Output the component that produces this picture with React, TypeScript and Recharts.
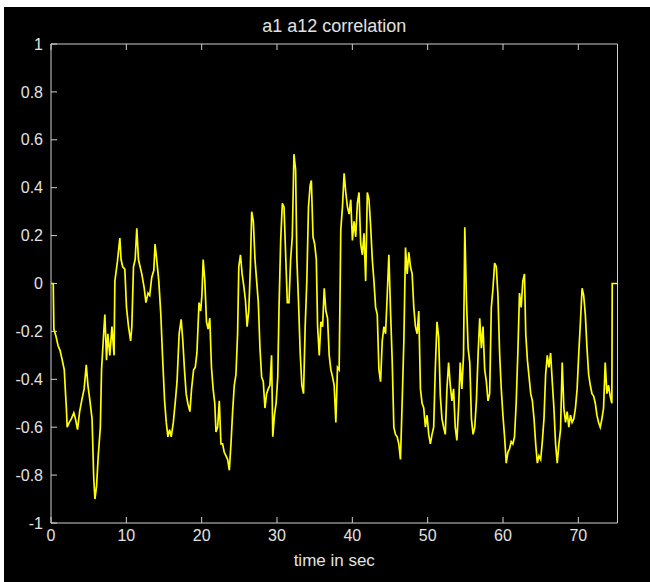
import React from 'react';
import { LineChart, Line, XAxis, YAxis } from 'recharts';

// ---- data (time in seconds, correlation value) ----
const tA = [0, 0.3, 0.38, 0.66, 0.94, 1.21, 1.49, 1.76, 1.93, 2.04, 2.15, 2.42, 2.70, 3.03, 3.25, 3.52, 3.80, 4.07, 4.40, 4.68, 4.90, 5.17, 5.45, 5.67, 5.83, 6.05, 6.27, 6.55, 6.71, 6.99, 7.15, 7.37, 7.54, 7.81, 8.09, 8.37, 8.48, 8.81, 9.14, 9.30, 9.52, 9.80];
const vA = [0, 0, -0.19, -0.22, -0.26, -0.28, -0.32, -0.36, -0.46, -0.52, -0.60, -0.58, -0.565, -0.54, -0.565, -0.61, -0.535, -0.49, -0.44, -0.34, -0.425, -0.49, -0.565, -0.81, -0.90, -0.845, -0.72, -0.60, -0.36, -0.21, -0.13, -0.32, -0.21, -0.30, -0.18, -0.30, 0.01, 0.09, 0.19, 0.10, 0.07, 0.06];

const tB = [10.02, 10.29, 10.57, 10.73, 10.95, 11.17, 11.39, 11.61, 11.83, 12.05, 12.38, 12.60, 12.88, 13.10, 13.37, 13.65, 13.81, 14.03, 14.31, 14.58, 14.80, 15.08, 15.30, 15.52, 15.74, 15.96, 16.24, 16.51, 16.73, 17.01, 17.28, 17.50, 17.72, 17.94, 18.16, 18.44, 18.66, 18.93, 19.15, 19.37, 19.65, 19.87];
const vB = [-0.10, -0.18, -0.24, -0.18, 0.07, 0.10, 0.23, 0.10, 0.07, 0.04, -0.02, -0.08, -0.04, -0.05, 0.025, 0.055, 0.165, 0.10, 0.01, -0.13, -0.30, -0.49, -0.58, -0.64, -0.61, -0.64, -0.58, -0.49, -0.41, -0.21, -0.15, -0.24, -0.36, -0.46, -0.50, -0.535, -0.44, -0.36, -0.35, -0.29, -0.08, -0.115];

const tC = [20.03, 20.20, 20.42, 20.64, 20.86, 21.08, 21.30, 21.52, 21.74, 21.90, 22.12, 22.34, 22.56, 22.78, 23.00, 23.23, 23.45, 23.67, 23.89, 24.11, 24.33, 24.55, 24.77, 24.93, 25.15, 25.37, 25.59, 25.81, 26.03, 26.25, 26.47, 26.64, 26.86, 27.08, 27.30, 27.52, 27.74, 27.96, 28.18, 28.40, 28.62, 28.84, 29.06, 29.28, 29.44, 29.66, 29.88];
const vC = [-0.05, 0.10, 0.01, -0.16, -0.19, -0.145, -0.35, -0.44, -0.50, -0.62, -0.60, -0.49, -0.67, -0.67, -0.705, -0.72, -0.735, -0.78, -0.67, -0.535, -0.425, -0.38, -0.21, 0.07, 0.12, 0.04, -0.01, -0.07, -0.18, -0.115, 0.07, 0.30, 0.26, 0.10, 0.01, -0.08, -0.27, -0.39, -0.41, -0.52, -0.46, -0.44, -0.425, -0.30, -0.64, -0.55, -0.50];

const tD = [30.10, 30.27, 30.49, 30.71, 30.93, 31.15, 31.37, 31.59, 31.81, 32.03, 32.25, 32.47, 32.64, 32.86, 33.08, 33.30, 33.52, 33.74, 33.96, 34.18, 34.40, 34.56, 34.78, 35.00, 35.22, 35.39, 35.61, 35.83, 36.05, 36.27, 36.49, 36.71, 36.93, 37.15, 37.37, 37.59, 37.81, 38.03, 38.25, 38.47, 38.69, 38.91, 39.13, 39.35, 39.57, 39.79];
const vD = [-0.39, -0.10, 0.18, 0.335, 0.32, 0.12, -0.08, -0.08, 0.10, 0.195, 0.54, 0.475, 0.10, -0.08, -0.29, -0.425, -0.46, -0.18, 0.01, 0.32, 0.41, 0.43, 0.195, 0.165, 0.10, -0.18, -0.30, -0.16, -0.18, -0.02, -0.115, -0.145, -0.30, -0.36, -0.39, -0.425, -0.58, -0.35, -0.36, 0.225, 0.32, 0.46, 0.38, 0.32, 0.29, 0.35];

const tE = [40.01, 40.23, 40.45, 40.67, 40.89, 41.11, 41.33, 41.55, 41.77, 41.99, 42.21, 42.43, 42.65, 42.87, 43.09, 43.31, 43.53, 43.75, 43.97, 44.19, 44.41, 44.63, 44.85, 45.07, 45.29, 45.51, 45.73, 45.95, 46.17, 46.39, 46.62, 46.84, 47.06, 47.28, 47.50, 47.72, 47.94, 48.16, 48.38, 48.60, 48.82, 49.04, 49.26, 49.48, 49.70, 49.92];
const vE = [0.18, 0.26, 0.195, 0.335, 0.38, 0.165, 0.12, 0.21, 0.01, 0.38, 0.35, 0.24, 0.10, 0.01, -0.10, -0.13, -0.36, -0.41, -0.24, -0.18, -0.21, -0.05, 0.12, -0.115, -0.32, -0.60, -0.63, -0.64, -0.67, -0.735, -0.49, -0.24, 0.15, 0.04, 0.13, 0.07, 0.04, -0.10, -0.18, -0.21, -0.115, -0.44, -0.50, -0.52, -0.60, -0.55];

const tF = [50.14, 50.36, 50.58, 50.80, 51.02, 51.24, 51.46, 51.68, 51.90, 52.12, 52.34, 52.56, 52.78, 53.00, 53.22, 53.44, 53.66, 53.88, 54.10, 54.32, 54.54, 54.76, 54.93, 55.15, 55.37, 55.59, 55.81, 56.03, 56.25, 56.47, 56.69, 56.91, 57.13, 57.35, 57.57, 57.79, 58.01, 58.23, 58.45, 58.67, 58.89, 59.11, 59.33, 59.55, 59.77, 59.99];
const vF = [-0.63, -0.67, -0.63, -0.60, -0.35, -0.16, -0.225, -0.47, -0.565, -0.60, -0.63, -0.44, -0.33, -0.425, -0.49, -0.44, -0.60, -0.655, -0.52, -0.33, -0.44, -0.30, 0.235, -0.07, -0.27, -0.33, -0.565, -0.63, -0.60, -0.49, -0.30, -0.145, -0.27, -0.18, -0.36, -0.41, -0.49, -0.46, -0.10, -0.02, 0.085, 0.07, -0.05, -0.29, -0.44, -0.55];

const tG = [60.21, 60.43, 60.65, 60.87, 61.09, 61.31, 61.53, 61.75, 61.97, 62.19, 62.41, 62.63, 62.85, 63.02, 63.24, 63.46, 63.68, 63.90, 64.12, 64.34, 64.56, 64.78, 65.00, 65.22, 65.44, 65.66, 65.88, 66.10, 66.32, 66.54, 66.76, 66.98, 67.20, 67.42, 67.64, 67.86, 68.08, 68.30, 68.52, 68.74, 68.96, 69.18, 69.40, 69.62, 69.84];
const vG = [-0.64, -0.75, -0.705, -0.69, -0.66, -0.67, -0.64, -0.50, -0.29, -0.04, -0.10, 0.01, 0.04, -0.21, -0.32, -0.39, -0.46, -0.49, -0.565, -0.67, -0.75, -0.72, -0.735, -0.66, -0.565, -0.38, -0.30, -0.35, -0.29, -0.41, -0.52, -0.67, -0.75, -0.67, -0.61, -0.33, -0.52, -0.58, -0.535, -0.60, -0.55, -0.58, -0.565, -0.52, -0.44];

const tH = [70.06, 70.28, 70.50, 70.71, 70.93, 71.15, 71.37, 71.59, 71.81, 72.03, 72.25, 72.47, 72.69, 72.91, 73.13, 73.35, 73.57, 73.79, 74.01, 74.23, 74.45, 74.5, 75.2];
const vH = [-0.29, -0.16, -0.02, -0.05, -0.13, -0.27, -0.38, -0.425, -0.46, -0.47, -0.50, -0.55, -0.58, -0.60, -0.565, -0.52, -0.33, -0.46, -0.425, -0.47, -0.50, 0, 0];

const timeSec = [...tA, ...tB, ...tC, ...tD, ...tE, ...tF, ...tG, ...tH];
const corr = [...vA, ...vB, ...vC, ...vD, ...vE, ...vF, ...vG, ...vH];

const xTicks = [0, 10, 20, 30, 40, 50, 60, 70];
const xDomain = [0, 75.2];
const yTicks = [-1, -0.8, -0.6, -0.4, -0.2, 0, 0.2, 0.4, 0.6, 0.8, 1];
const yTickLabels = ['-1', '-0.8', '-0.6', '-0.4', '-0.2', '0', '0.2', '0.4', '0.6', '0.8', '1'];
const titleText = 'a1 a12 correlation';
const xLabelText = 'time in sec';

const data = timeSec.map((t, i) => ({ t, v: corr[i] }));

const AXIS = '#cfcfcf';
const TEXT = '#e2e2e2';
const FONT = '"Liberation Sans", Arial, Helvetica, sans-serif';
const TICK_LEN = 6;

function BottomTick(props: any) {
  const { x, y, payload } = props;
  const ay = y - 7;
  return (
    <g>
      <line x1={x} x2={x} y1={ay} y2={ay - TICK_LEN} stroke={AXIS} />
      <text x={x} y={y} dy="0.71em" textAnchor="middle" fill={TEXT} fontSize={16} fontFamily={FONT}>
        {payload.value}
      </text>
    </g>
  );
}

function LeftTick(props: any) {
  const { x, y, payload } = props;
  const ax = x + 8;
  const idx = yTicks.indexOf(payload.value);
  const label = idx >= 0 ? yTickLabels[idx] : String(payload.value);
  return (
    <g>
      <line x1={ax} x2={ax + TICK_LEN} y1={y} y2={y} stroke={AXIS} />
      <text x={x} y={y} dy="0.35em" textAnchor="end" fill={TEXT} fontSize={16} fontFamily={FONT}>
        {label}
      </text>
    </g>
  );
}

function TopTick(props: any) {
  const { x, y } = props;
  return <line x1={x} x2={x} y1={y} y2={y + TICK_LEN} stroke={AXIS} />;
}

function RightTick(props: any) {
  const { x, y } = props;
  return <line x1={x} x2={x - TICK_LEN} y1={y} y2={y} stroke={AXIS} />;
}

export default function App() {
  return (
    <div style={{ position: 'absolute', left: 0, top: 0, width: 650, height: 582, background: '#ffffff', overflow: 'hidden' }}>
      <div style={{ position: 'absolute', left: 4, top: 7, width: 646, height: 575, background: '#000000' }}>
        <LineChart width={646} height={575} data={data} margin={{ top: 36, right: 31.5, bottom: 9, left: 7 }}>
          <XAxis
            dataKey="t"
            type="number"
            domain={xDomain}
            ticks={xTicks}
            interval={0}
            height={50}
            tickSize={0}
            tickMargin={7}
            tickLine={false}
            axisLine={{ stroke: AXIS }}
            tick={<BottomTick />}
            label={{ value: xLabelText, position: 'insideBottom', offset: 7, fill: TEXT, fontSize: 17, fontFamily: FONT }}
          />
          <XAxis
            xAxisId="top"
            orientation="top"
            dataKey="t"
            type="number"
            domain={xDomain}
            ticks={xTicks}
            interval={0}
            height={1}
            tickSize={0}
            tickMargin={0}
            tickLine={false}
            axisLine={{ stroke: AXIS }}
            tick={<TopTick />}
            label={{ value: titleText, position: 'top', offset: 11, fill: TEXT, fontSize: 18, fontFamily: FONT }}
          />
          <YAxis
            type="number"
            domain={[-1, 1]}
            ticks={yTicks}
            interval={0}
            width={40}
            tickSize={0}
            tickMargin={8}
            tickLine={false}
            axisLine={{ stroke: AXIS }}
            tick={<LeftTick />}
          />
          <YAxis
            yAxisId="right"
            orientation="right"
            type="number"
            domain={[-1, 1]}
            ticks={yTicks}
            interval={0}
            width={1}
            tickSize={0}
            tickMargin={0}
            tickLine={false}
            axisLine={{ stroke: AXIS }}
            tick={<RightTick />}
          />
          <Line
            type="linear"
            dataKey="v"
            stroke="#ffff00"
            strokeWidth={1.7}
            dot={false}
            activeDot={false}
            isAnimationActive={false}
          />
        </LineChart>
      </div>
    </div>
  );
}
